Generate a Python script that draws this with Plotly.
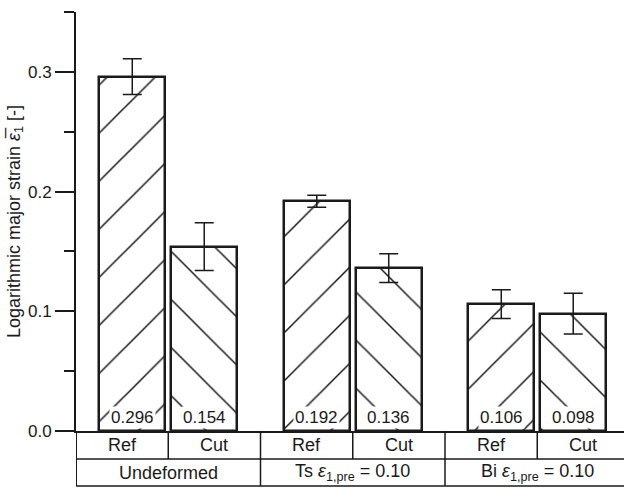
import plotly.graph_objects as go

# Measured major strains per specimen
groups = ["Undeformed", "Ts <i>ε</i><sub>1,pre</sub> = 0.10", "Bi <i>ε</i><sub>1,pre</sub> = 0.10"]
variants = ["Ref", "Cut"]
ref_values = [0.296, 0.192, 0.106]
cut_values = [0.154, 0.136, 0.098]
ref_errors = [0.015, 0.005, 0.012]
cut_errors = [0.020, 0.012, 0.017]
y_ticks = [0.0, 0.1, 0.2, 0.3]

INK = "#1a1a1a"
FONT = "Liberation Sans, Arial, sans-serif"
FS = 17          # tick and value labels
FS_TABLE = 18    # category table and axis title
OFFSET = 0.195   # half distance between Ref and Cut bars in a group
BAR_W = 0.358

group_x = list(range(len(groups)))
ref_x = [g - OFFSET for g in group_x]
cut_x = [g + OFFSET for g in group_x]

fig = go.Figure()

def add_bars(xs, ys, errs, shape):
    fig.add_trace(go.Bar(
        x=xs, y=ys, width=BAR_W,
        marker=dict(
            color="white",
            line=dict(color=INK, width=2.5),
            pattern=dict(shape=shape, fgcolor=INK, fgopacity=1, bgcolor="white",
                         size=34, solidity=0.045),
        ),
        error_y=dict(type="data", array=errs, visible=True, color=INK, thickness=1.5, width=9.5),
        showlegend=False,
    ))

add_bars(ref_x, ref_values, ref_errors, "/")
add_bars(cut_x, cut_values, cut_errors, "\\")

# value labels at the foot of each bar
for xs, ys in ((ref_x, ref_values), (cut_x, cut_values)):
    for x, v in zip(xs, ys):
        fig.add_annotation(
            x=x, y=0, xref="x", yref="y", yanchor="bottom", yshift=2,
            text=f"{v:.3f}", showarrow=False, bgcolor="white", borderpad=1,
            font=dict(size=FS, color=INK, family=FONT),
        )

# category table beneath the axis
row1_top, row1_bot, row2_bot = 0.0, -0.0668, -0.1313
left = -0.5
right = len(groups) - 0.5
line = dict(color=INK, width=1.5)
for yv in (row1_bot, row2_bot):
    fig.add_shape(type="line", xref="x", yref="paper", x0=left, x1=right, y0=yv, y1=yv, line=line)
fig.add_shape(type="line", xref="x", yref="paper", x0=left, x1=left, y0=0, y1=row2_bot,
              line=dict(color=INK, width=2))
for g in group_x:
    fig.add_shape(type="line", xref="x", yref="paper", x0=g, x1=g, y0=row1_top, y1=row1_bot, line=line)
    if g > 0:
        fig.add_shape(type="line", xref="x", yref="paper", x0=g - 0.5, x1=g - 0.5,
                      y0=row1_top, y1=row2_bot, line=line)
    for k, name in enumerate(variants):
        fig.add_annotation(
            x=g - 0.25 + 0.5 * k, y=(row1_top + row1_bot) / 2, xref="x", yref="paper",
            xanchor="center", yanchor="middle",
            text=name, showarrow=False, font=dict(size=FS_TABLE, color=INK, family=FONT),
        )
    fig.add_annotation(
        x=g, y=(row1_bot + row2_bot) / 2, xref="x", yref="paper",
        xanchor="center", yanchor="middle",
        text=groups[g], showarrow=False, font=dict(size=FS_TABLE, color=INK, family=FONT),
    )

fig.update_layout(
    width=624, height=489,
    margin=dict(l=76, r=0, t=12, b=58),
    paper_bgcolor="white", plot_bgcolor="white",
    bargap=0, barmode="overlay",
    font=dict(family=FONT, size=FS, color=INK),
    xaxis=dict(
        range=[-0.5, -0.5 + 548 / 184.5],
        showgrid=False, zeroline=False, showticklabels=False, ticks="",
        showline=True, linecolor=INK, linewidth=2,
    ),
    yaxis=dict(
        range=[0, 0.35],
        tickvals=y_ticks, tickformat=".1f",
        ticks="outside", ticklen=19, tickwidth=1.5, tickcolor=INK,
        minor=dict(dtick=0.05, ticks="outside", ticklen=10, tickwidth=1.5, tickcolor=INK),
        showgrid=False, zeroline=False,
        showline=True, linecolor=INK, linewidth=2,
        tickfont=dict(size=FS, color=INK, family=FONT),
        title=dict(text="Logarithmic major strain <i>ε̅</i><sub>1</sub> [-]",
                   font=dict(size=FS_TABLE, color=INK, family=FONT), standoff=3),
    ),
)

fig.write_html("out.html")
